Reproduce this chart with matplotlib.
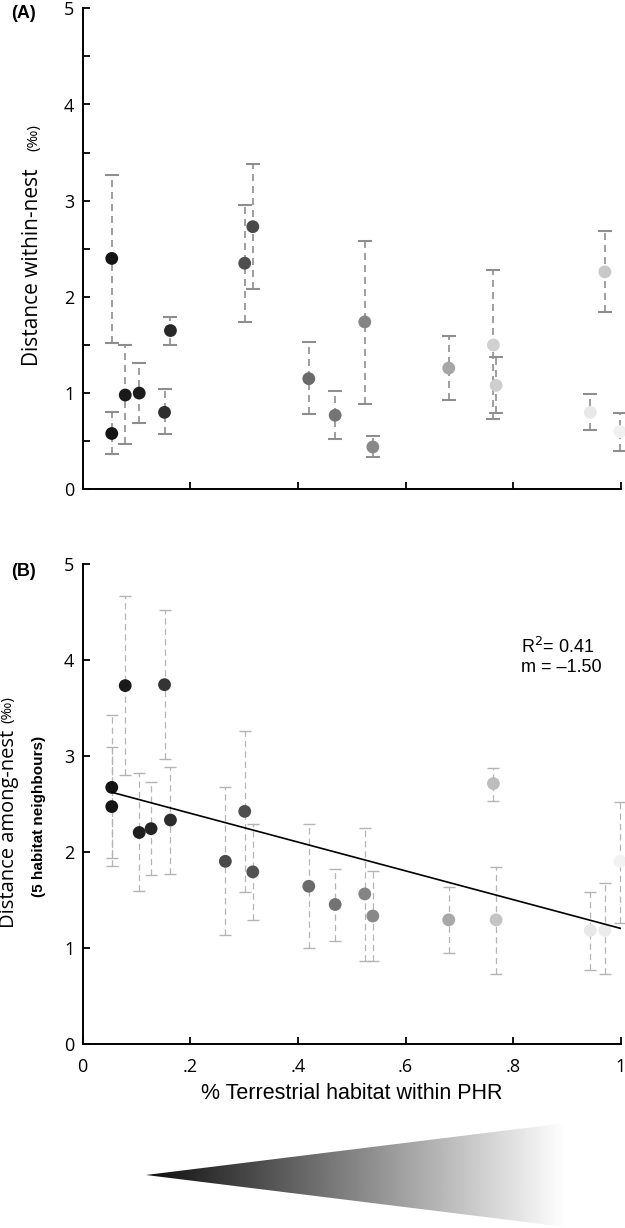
import numpy as np
import matplotlib
matplotlib.use('Agg')
import matplotlib.pyplot as plt
from matplotlib.patches import Polygon

# panel A : within-nest distance (mean with range) against % terrestrial habitat
site_x_a = [0.054, 0.054, 0.079, 0.105, 0.152, 0.163, 0.301, 0.316, 0.420, 0.469,
            0.524, 0.539, 0.680, 0.763, 0.768, 0.943, 0.970, 0.998]
within_mean = [2.40, 0.58, 0.98, 1.00, 0.80, 1.65, 2.35, 2.73, 1.15, 0.77,
               1.74, 0.44, 1.26, 1.50, 1.08, 0.80, 2.26, 0.60]
within_lo = [1.52, 0.37, 0.47, 0.69, 0.57, 1.50, 1.74, 2.08, 0.78, 0.52,
             0.89, 0.34, 0.93, 0.73, 0.79, 0.62, 1.84, 0.40]
within_hi = [3.27, 0.80, 1.50, 1.31, 1.04, 1.79, 2.96, 3.38, 1.53, 1.02,
             2.58, 0.55, 1.59, 2.28, 1.38, 0.99, 2.68, 0.79]

# panel B : among-nest distance (5 habitat neighbours)
site_x_b = [0.054, 0.054, 0.079, 0.105, 0.127, 0.152, 0.163, 0.265, 0.301, 0.316,
            0.420, 0.469, 0.524, 0.539, 0.680, 0.763, 0.768, 0.943, 0.970, 0.998]
among_mean = [2.67, 2.47, 3.73, 2.20, 2.24, 3.74, 2.33, 1.90, 2.42, 1.79,
              1.64, 1.45, 1.56, 1.33, 1.29, 2.71, 1.29, 1.18, 1.18, 1.90]
among_lo = [1.93, 1.85, 2.80, 1.59, 1.76, 2.97, 1.77, 1.13, 1.58, 1.29,
            1.00, 1.07, 0.86, 0.86, 0.95, 2.53, 0.73, 0.77, 0.73, 1.26]
among_hi = [3.42, 3.09, 4.66, 2.82, 2.73, 4.52, 2.88, 2.67, 3.26, 2.29,
            2.29, 1.82, 2.25, 1.80, 1.63, 2.87, 1.84, 1.58, 1.67, 2.52]

# regression on panel B
fit_slope = -1.50
fit_intercept = 2.70
fit_r2 = 0.41

x_ticks = [0, 0.2, 0.4, 0.6, 0.8, 1.0]
x_tick_labels = ['0', '.2', '.4', '.6', '.8', '1']
y_ticks = [0, 1, 2, 3, 4, 5]

# marker shades (dark = aquatic, light = terrestrial)
shade_a = ['#141414', '#141414', '#1a1a1a', '#1c1c1c', '#2e2e2e', '#282828', '#4e4e4e',
           '#4a4a4a', '#6a6a6a', '#747474', '#848484', '#888888', '#a6a6a6', '#d0d0d0',
           '#cecece', '#e8e8e8', '#c8c8c8', '#f0f0f0']
shade_b = ['#141414', '#141414', '#1a1a1a', '#1e1e1e', '#242424', '#343434', '#2c2c2c',
           '#4a4a4a', '#4e4e4e', '#525252', '#6a6a6a', '#737373', '#848484', '#888888',
           '#a8a8a8', '#bdbdbd', '#c4c4c4', '#e8e8e8', '#ececec', '#f2f2f2']

W, H = 625, 1228
fig = plt.figure(figsize=(W / 100, H / 100), dpi=100)

tick_font = 'Open Sans'
label_font = 'Open Sans'
arial = 'Liberation Sans'


def px_axes(left, top, right, bottom):
    # figure-fraction box from pixel edges
    return fig.add_axes([left / W, 1 - bottom / H, (right - left) / W, (bottom - top) / H])


def style_axes(ax):
    for s in ['top', 'right']:
        ax.spines[s].set_visible(False)
    for s in ['left', 'bottom']:
        ax.spines[s].set_linewidth(1.4)
    ax.set_xlim(0, 1)
    ax.set_ylim(0, 5)
    ax.set_xticks(x_ticks)
    ax.set_yticks(y_ticks)
    ax.tick_params(which='both', direction='in', length=5, width=1.3,
                   labelsize=13, pad=6)
    for lab in ax.get_yticklabels() + ax.get_xticklabels():
        lab.set_fontfamily(tick_font)


def draw_points(ax, x, y, lo, hi, shades, ecol, elw, dash, cap, capw):
    y = np.array(y)
    err = [y - np.array(lo), np.array(hi) - y]
    eb = ax.errorbar(x, y, yerr=err, fmt='none', ecolor=ecol, elinewidth=elw,
                     capsize=cap, capthick=capw, zorder=2)
    eb[2][0].set_linestyle((0, dash))
    for c in eb[1]:
        c.set_clip_on(False)
    eb[2][0].set_clip_on(False)
    ax.scatter(x, y, s=85, c=shades, edgecolors='none', zorder=3, clip_on=False)


# ---- panel A
axA = px_axes(82.7, 8.3, 621, 489.3)
style_axes(axA)
axA.set_yticks(np.arange(0.5, 5, 1.0), minor=True)
axA.set_xticklabels([])
draw_points(axA, site_x_a, within_mean, within_lo, within_hi, shade_a,
            '#8e8e8e', 1.2, (4.2, 3.0), 5, 1.5)

# ---- panel B
axB = px_axes(82.7, 563.7, 621, 1043.7)
style_axes(axB)
axB.set_xticklabels(x_tick_labels)
axB.tick_params(axis='x', pad=10)
for lab in axB.get_xticklabels():
    lab.set_fontfamily(tick_font)
draw_points(axB, site_x_b, among_mean, among_lo, among_hi, shade_b,
            '#b4b4b4', 0.9, (5.0, 3.3), 4, 1.0)

fx = np.array([min(site_x_b), 1.0])
axB.plot(fx, fit_intercept + fit_slope * fx, color='black', lw=1.2, zorder=4)
axB.text(0.815, 0.806, 'R$^2$= %.2f\nm = \u2013%.2f' % (fit_r2, abs(fit_slope)),
         transform=axB.transAxes, fontsize=13, family=arial, linespacing=1.15,
         va='center', ha='left')

axB.set_xlabel('% Terrestrial habitat within PHR', family=arial, fontsize=15.5, labelpad=5)

# ---- y axis labels and panel letters
fig.text(33 / W, 1 - 267 / H, 'Distance within-nest', rotation=90, family=label_font,
         fontsize=15, ha='center', va='center')
fig.text(34 / W, 1 - 138 / H, '(\u2030)', rotation=90, family=label_font,
         fontsize=11, ha='center', va='center')

fig.text(9 / W, 1 - 829 / H, 'Distance among-nest', rotation=90, family=label_font,
         fontsize=14.5, ha='center', va='center')
fig.text(8 / W, 1 - 710 / H, '(\u2030)', rotation=90, family=label_font,
         fontsize=11, ha='center', va='center')
fig.text(39 / W, 1 - 816 / H, '(5 habitat neighbours)', rotation=90, family=arial,
         fontsize=11, weight='bold', ha='center', va='center')

fig.text(24 / W, 1 - 13 / H, '(A)', family=arial, fontsize=13, weight='bold',
         ha='center', va='center')
fig.text(24 / W, 1 - 571 / H, '(B)', family=arial, fontsize=13, weight='bold',
         ha='center', va='center')

# ---- grey wedge under the x axis
axG = px_axes(146, 1123, 566, 1227)
axG.set_axis_off()
grad = np.linspace(0.05, 1.0, 300).reshape(1, -1)
im = axG.imshow(grad, cmap='gray', vmin=0, vmax=1, extent=(0, 1, -1, 1), aspect='auto')
axG.set_xlim(0, 1)
axG.set_ylim(-1, 1)
wedge = Polygon([(0, 0), (1, 1), (1, -1)], closed=True, transform=axG.transData)
im.set_clip_path(wedge)

fig.savefig('out.png', dpi=100)
